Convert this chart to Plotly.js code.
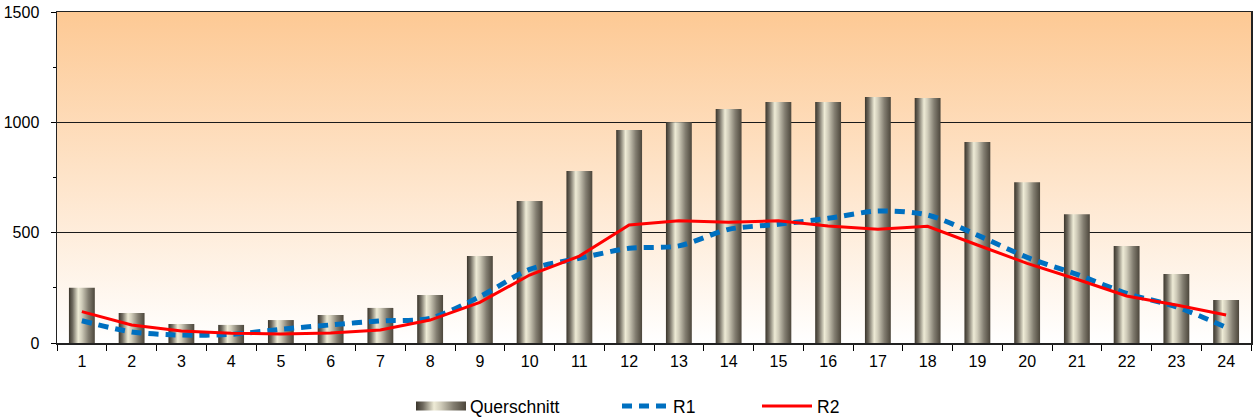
<!DOCTYPE html>
<html>
<head>
<meta charset="utf-8">
<script src="https://cdn.plot.ly/plotly-3.0.1.min.js"></script>
<style>
html,body{margin:0;padding:0;background:#fff;}
#chart{width:1256px;height:419px;}
</style>
</head>
<body>
<div id="chart"></div>
<script>
const categories = ['1','2','3','4','5','6','7','8','9','10','11','12','13','14','15','16','17','18','19','20','21','22','23','24'];
const querschnitt = [250,136,86,82,104,127,159,217,394,643,779,965,1000,1060,1092,1092,1115,1110,911,729,584,440,313,195];
const r1 = [101,50,36,39,62,82,100,112,210,334,384,429,440,515,538,565,598,580,489,388,311,225,164,71];
const r2 = [142,82,54,44,41,45,59,104,184,308,394,535,554,547,554,530,515,529,444,361,289,213,172,127];
const yTickVals = [0,500,1000,1500];
const seriesNames = ['Querschnitt','R1','R2'];

const FONT = 'Arial, "Liberation Sans", sans-serif';

const bgSvg = '<svg xmlns="http://www.w3.org/2000/svg" width="100" height="100" preserveAspectRatio="none">' +
  '<defs><linearGradient id="g" x1="0" y1="0" x2="0" y2="1">' +
  '<stop offset="0" stop-color="#FDC994"/><stop offset="1" stop-color="#FFFFFF"/>' +
  '</linearGradient></defs><rect width="100" height="100" fill="url(#g)"/></svg>';

const data = [
  {
    type: 'bar', name: seriesNames[0], x: categories, y: querschnitt,
    marker: {color: '#a29d8f', line: {width: 0}},
    legend: 'legend'
  },
  {
    type: 'scatter', mode: 'lines', name: seriesNames[1], x: categories, y: r1,
    line: {color: '#0070C0', width: 5, dash: '10px,7px', shape: 'spline', smoothing: 0.8},
    legend: 'legend2'
  },
  {
    type: 'scatter', mode: 'lines', name: seriesNames[2], x: categories, y: r2,
    line: {color: '#FF0000', width: 3},
    legend: 'legend3'
  }
];

const legendBase = {
  orientation: 'h', yref: 'container', y: 13 / 419, yanchor: 'middle', xanchor: 'left',
  font: {family: FONT, size: 17.5, color: '#000'},
  bgcolor: 'rgba(0,0,0,0)', borderwidth: 0
};

const layout = {
  width: 1256, height: 419,
  margin: {l: 57, r: 5, t: 12, b: 76},
  paper_bgcolor: '#ffffff',
  plot_bgcolor: '#ffffff',
  font: {family: FONT, size: 16, color: '#000'},
  bargap: 0.48,
  showlegend: true,
  legend: Object.assign({}, legendBase, {x: (411 - 57) / 1194, itemwidth: 49}),
  legend2: Object.assign({}, legendBase, {x: (617 - 57) / 1194, itemwidth: 46}),
  legend3: Object.assign({}, legendBase, {x: (757 - 57) / 1194, itemwidth: 50}),
  xaxis: {
    type: 'category', tickson: 'boundaries', ticks: 'outside', ticklen: 6, tickwidth: 1,
    tickcolor: '#000', showline: true, linecolor: '#222', linewidth: 1.5, mirror: true,
    showgrid: false, zeroline: false, ticklabelstandoff: 3, automargin: false,
    tickfont: {family: FONT, size: 16, color: '#000'}
  },
  yaxis: {
    range: [0, 1500], tickvals: yTickVals, ticktext: yTickVals.map(String),
    ticks: 'outside', ticklen: 5, tickwidth: 1, tickcolor: '#000',
    showline: true, linecolor: '#222', linewidth: 1.5, mirror: true,
    showgrid: true, gridcolor: '#1a1a1a', gridwidth: 1, zeroline: false,
    ticklabelstandoff: 8, automargin: false,
    minor: {dtick: 250, tick0: 0, ticks: 'outside', ticklen: 3, tickcolor: '#000', showgrid: false},
    tickfont: {family: FONT, size: 16, color: '#000'}
  },
  images: [{
    source: 'data:image/svg+xml;charset=utf-8,' + encodeURIComponent(bgSvg),
    xref: 'x domain', yref: 'y domain', x: 0, y: 1, sizex: 1, sizey: 1,
    xanchor: 'left', yanchor: 'top', sizing: 'stretch', layer: 'below'
  }]
};

Plotly.newPlot('chart', data, layout, {staticPlot: true, displayModeBar: false}).then(function (gd) {
  const ns = 'http://www.w3.org/2000/svg';
  const svg = gd.querySelector('.main-svg');
  let defs = svg.querySelector('defs');
  if (!defs) { defs = document.createElementNS(ns, 'defs'); svg.insertBefore(defs, svg.firstChild); }
  const stops = [[0,'#3a352b'],[0.14,'#6f6a5f'],[0.36,'#eeebd6'],[0.5,'#cfcbb9'],[0.75,'#837e71'],[1,'#4c463b']];
  const lg = document.createElementNS(ns, 'linearGradient');
  lg.setAttribute('id', 'barGrad');
  lg.setAttribute('x1', '0'); lg.setAttribute('y1', '0'); lg.setAttribute('x2', '1'); lg.setAttribute('y2', '0');
  stops.forEach(function (s) {
    const st = document.createElementNS(ns, 'stop');
    st.setAttribute('offset', s[0]); st.setAttribute('stop-color', s[1]);
    lg.appendChild(st);
  });
  defs.appendChild(lg);
  gd.querySelectorAll('.barlayer .point path').forEach(function (p) {
    p.style.fill = 'url(#barGrad)';
  });
  const lp = gd.querySelector('.legend .traces .legendpoints path');
  if (lp) {
    lp.setAttribute('transform', 'translate(0,0)');
    lp.setAttribute('d', 'M5,-4.5h50v9h-50z');
    lp.style.fill = 'url(#barGrad)';
    lp.style.stroke = 'none';
  }
});
</script>
</body>
</html>
